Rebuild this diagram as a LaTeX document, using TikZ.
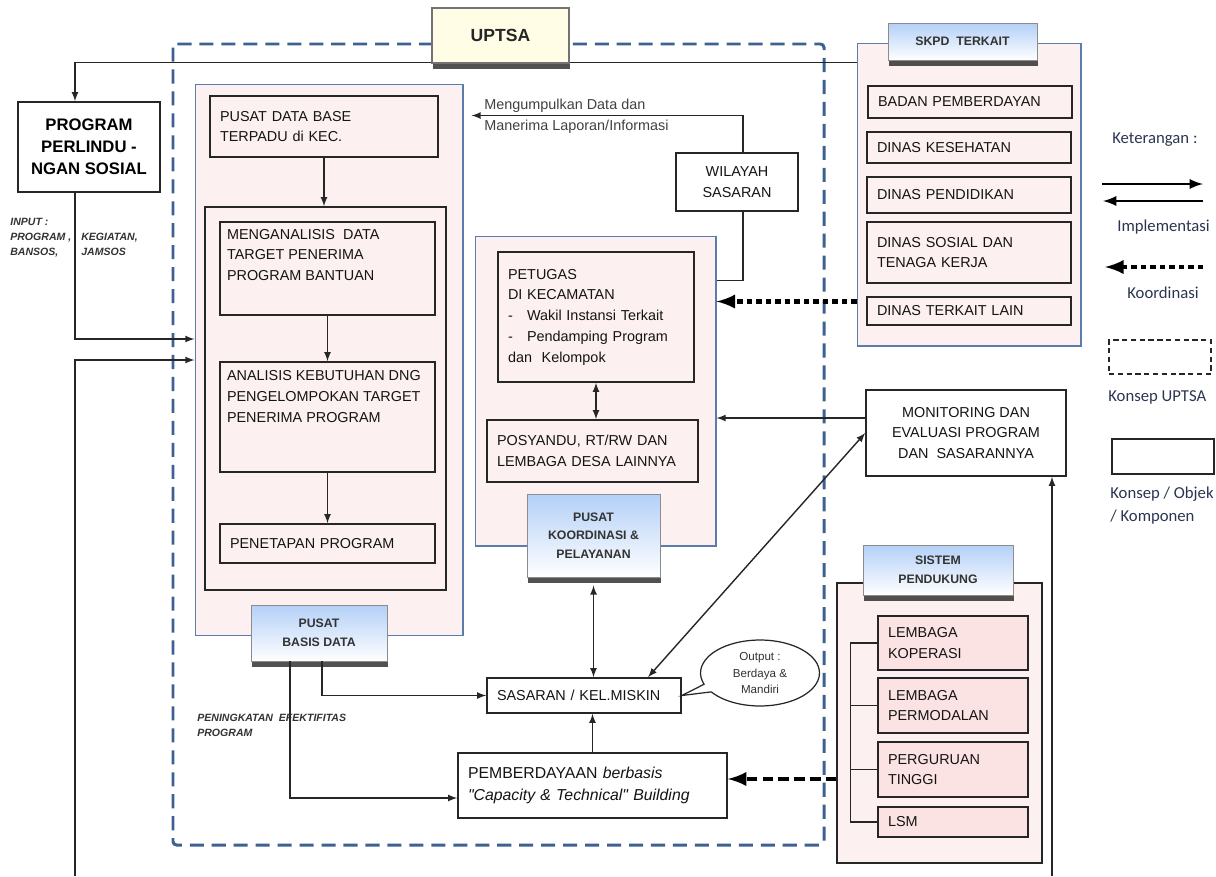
\documentclass[tikz,border=0pt]{standalone}
\usepackage{fontspec}
\setmainfont{Liberation Sans}
\newfontfamily\legendfont{Carlito}
\newfontfamily\quotefont{Liberation Sans}
\usetikzlibrary{shadows,shapes.geometric,shapes.callouts}

\definecolor{pinkbg}{HTML}{FDF0F0}
\definecolor{pinkbox}{HTML}{FCE3E3}
\definecolor{frameblue}{HTML}{5A7DAE}
\definecolor{dashblue}{HTML}{3D6190}
\definecolor{tagblue}{HTML}{B3D0F7}
\definecolor{uptsafill}{HTML}{FFFDE6}
\definecolor{legtext}{HTML}{2B3550}

\tikzset{
    box/.style={draw=black!85, line width=0.9pt, fill=pinkbg, text=black!92,
        font=\fontsize{8.2}{11.8}\selectfont, align=left,
        inner xsep=0.2cm, inner ysep=0pt},
    plainbox/.style={box, fill=white},
    contain/.style={draw=frameblue, line width=0.6pt, fill=pinkbg, inner sep=0pt},
    tagbox/.style={draw=black!45, line width=0.5pt, top color=tagblue,
        bottom color=white, text=black!80, align=center,
        font=\bfseries\fontsize{7}{10.6}\selectfont,
        drop shadow={shadow xshift=0.4pt, shadow yshift=-3.2pt,
            opacity=0.8, fill=black!85}},
    link/.style={line width=0.8pt, draw=black!85},
    koord/.style={line width=2.6pt, dash pattern=on 3pt off 2.4pt, -latex},
    dukung/.style={line width=2.6pt, dash pattern=on 6pt off 3pt, -latex},
    implem/.style={line width=1.6pt, -latex},
    lgtext/.style={font=\legendfont\fontsize{9.5}{13}\selectfont,
        text=legtext, inner sep=0pt, align=left},
    note/.style={font=\bfseries\itshape\fontsize{6}{8.5}\selectfont,
        text=black!80, inner sep=0pt, align=left}
}

\begin{document}
\begin{tikzpicture}[x=0.02cm, y=-0.02cm]
    \useasboundingbox (0,0) rectangle (1216,876);

    % Draw the UPTSA concept (dashed frame)
    \draw[dashblue, line width=1.7pt, dash pattern=on 8pt off 4.5pt, rounded corners=2pt]
        (173,44) rectangle (824,845);

    % SKPD terkait
    \node[contain, minimum width=4.48cm, minimum height=6.06cm] (skpd) at (969,194.5) {};
    \node[tagbox, minimum width=2.98cm, minimum height=0.74cm] (skpdT) at (962.5,41.5) {SKPD\ \ TERKAIT};
    \node[box, text width=3.68cm, minimum height=0.64cm] (bpm) at (970,102) {BADAN PEMBERDAYAN};
    \node[box, text width=3.68cm, minimum height=0.62cm] (dks) at (969,147.5) {DINAS KESEHATAN};
    \node[box, text width=3.68cm, minimum height=0.72cm] (dpd) at (969,195) {DINAS PENDIDIKAN};
    \node[box, text width=3.68cm, minimum height=1.22cm] (dsn) at (969,252.5) {DINAS SOSIAL DAN\\TENAGA KERJA\\[6pt]};
    \node[box, text width=3.68cm, minimum height=0.56cm] (dtl) at (969,311) {DINAS TERKAIT LAIN};

    % Program perlindungan sosial and the line from SKPD
    \node[plainbox, align=center, minimum width=2.84cm, minimum height=1.8cm,
        font=\bfseries\fontsize{9.5}{12.5}\selectfont, text=black] (prog) at (89,147) {PROGRAM\\PERLINDU -\\NGAN SOSIAL};
    \draw[link, -latex] ([yshift=-0.4cm]skpd.north west) -| ([xshift=-0.28cm]prog.north);
    \node[draw=black!55, line width=0.6pt, fill=uptsafill, minimum width=2.74cm, minimum height=1.1cm,
        font=\bfseries\fontsize{10}{12}\selectfont, text=black!85,
        drop shadow={shadow xshift=0.4pt, shadow yshift=-3.2pt, opacity=0.8, fill=black!85}] (uptsa) at (500.5,35.5) {UPTSA};

    % Pusat basis data
    \node[contain, minimum width=5.36cm, minimum height=11.04cm] (pbd) at (329,360) {};
    \node[box, text width=4.16cm, minimum height=1.22cm] (pdb) at (324,126.5) {PUSAT DATA BASE\\TERPADU di KEC.};
    \node[box, minimum width=4.82cm, minimum height=7.66cm, inner sep=0pt] (anl) at (325.5,398.5) {};
    \node[box, inner xsep=0.14cm] (mgn) at (327.5,268.5)
        {\parbox[c][1.86cm][t]{4.02cm}{\raggedright\vspace{4pt}MENGANALISIS\ \ DATA\\TARGET PENERIMA\\PROGRAM BANTUAN}};
    \node[box, inner xsep=0.14cm] (akb) at (327.5,417)
        {\parbox[c][2.2cm][t]{4.02cm}{\raggedright\vspace{5pt}ANALISIS KEBUTUHAN DNG\\PENGELOMPOKAN TARGET\\PENERIMA PROGRAM}};
    \node[box, text width=3.9cm, minimum height=0.78cm] (pnp) at (327.5,543.5) {PENETAPAN PROGRAM};
    \node[tagbox, minimum width=2.72cm, minimum height=1.12cm] (tagA) at (319,633) {PUSAT\\BASIS DATA};
    \draw[link, -latex] (pdb.south) -- (pdb.south |- anl.north);
    \draw[link, -latex] (mgn.south) -- (akb.north);
    \draw[link, -latex] (akb.south) -- (pnp.north);

    % Pusat koordinasi & pelayanan
    \node[contain, minimum width=4.82cm, minimum height=6.2cm] (pkc) at (595.5,391) {};
    \node[box, text width=3.52cm, minimum height=2.6cm] (ptg) at (596,317)
        {PETUGAS\\DI KECAMATAN\\\makebox[0.38cm][l]{-}Wakil Instansi Terkait\\\makebox[0.38cm][l]{-}Pendamping Program\\dan\ \ Kelompok};
    \node[box, text width=3.82cm, minimum height=1.24cm] (psy) at (592.5,451) {POSYANDU, RT/RW DAN\\LEMBAGA DESA LAINNYA};
    \node[tagbox, minimum width=2.66cm, minimum height=1.66cm] (tagB) at (593.5,535.5) {PUSAT\\KOORDINASI \&\\PELAYANAN};
    \draw[link, latex-latex] (ptg.south) -- (ptg.south |- psy.north);

    % Wilayah, monitoring, sasaran and pemberdayaan
    \node[plainbox, align=center, minimum width=2.44cm, minimum height=1.16cm] (wil) at (737,182) {WILAYAH\\SASARAN};
    \node[plainbox, align=center, minimum width=4.0cm, minimum height=1.72cm] (mon) at (966,433) {MONITORING DAN\\EVALUASI PROGRAM\\DAN\ \ SASARANNYA};
    \node[plainbox, text width=3.48cm, minimum height=0.7cm] (sas) at (584,695.5) {SASARAN / KEL.MISKIN};
    \node[plainbox, text width=4.98cm, minimum height=1.3cm, font=\fontsize{9}{12.5}\selectfont] (pmb) at (592.5,785.5)
        {PEMBERDAYAAN \textit{berbasis}\\\textit{{\quotefont"}Capacity \& Technical{\quotefont"} Building}};
    \node[ellipse callout, draw=black!85, line width=0.7pt, fill=white,
        minimum width=2.38cm, minimum height=1.32cm, inner sep=0pt, align=center,
        font=\fontsize{6.6}{9.6}\selectfont, text=black!80,
        callout absolute pointer={(sas.east)}] (outp) at (760,673) {Output :\\Berdaya \&\\Mandiri};

    % Sistem pendukung
    \node[contain, draw=black!85, line width=0.7pt, minimum width=4.1cm, minimum height=5.6cm] (spd) at (939.5,723) {};
    \node[tagbox, minimum width=3.0cm, minimum height=1.0cm] (tagD) at (938,570) {SISTEM\\PENDUKUNG};
    \node[box, fill=pinkbox, text width=2.6cm, minimum height=1.08cm] (lkp) at (953,643) {LEMBAGA\\KOPERASI};
    \node[box, fill=pinkbox, text width=2.6cm, minimum height=1.1cm] (lpm) at (953,705.5) {LEMBAGA\\PERMODALAN};
    \node[box, fill=pinkbox, text width=2.6cm, minimum height=1.1cm] (ptt) at (953,769.5) {PERGURUAN\\TINGGI};
    \node[box, fill=pinkbox, text width=2.6cm, minimum height=0.6cm] (lsm) at (953,822) {LSM};
    \draw[link] ([xshift=-0.54cm]lkp.west) -- ([xshift=-0.54cm]lsm.west);
    \foreach \b in {lkp, lpm, ptt, lsm}
        \draw[link] ([xshift=-0.54cm]\b.west) -- (\b.west);

    % Draw the connectors
    \draw[link, -latex] ([xshift=-0.28cm]prog.south) |- ([yshift=0.42cm]pbd.west);
    \coordinate (loopL) at (75,876);
    \draw[link, -latex] (loopL) |- (pbd.west);
    \draw[link, -latex] ([xshift=0.12cm]wil.north) |- ([xshift=0.16cm, yshift=-0.64cm]pbd.north east);
    \draw[link] ([xshift=0.12cm]wil.south) |- ([yshift=-0.9cm]pkc.north east);
    \coordinate (kA) at ([yshift=0.9cm]skpd.south west);
    \draw[koord] (kA) -- (kA -| pkc.east);
    \coordinate (mA) at ([yshift=0.3cm]mon.west);
    \draw[link, -latex] (mA) -- (mA -| pkc.east);
    \draw[link, latex-latex] ([xshift=1.28cm]sas.north) -- (mon.west);
    \draw[link, latex-latex] ([yshift=-0.16cm]tagB.south) -- (tagB.south |- sas.north);
    \draw[link, -latex] (pmb.north) -- (pmb.north |- sas.south);
    \draw[link, -latex] ([xshift=0.06cm]tagA.south) |- (sas.west);
    \draw[link, -latex] ([xshift=-0.58cm]tagA.south) |- ([yshift=-0.25cm]pmb.west);
    \coordinate (sA) at ([yshift=-1.12cm]spd.west);
    \draw[dukung] (sA) -- (sA -| pmb.east);
    \coordinate (loopR) at (1052,876);
    \draw[link, -latex] (loopR) -- (loopR |- mon.south);

    % Free texts
    \node[note, anchor=west] (inp) at (10,238)
        {INPUT :\\\makebox[1.42cm][l]{PROGRAM ,}KEGIATAN,\\\makebox[1.42cm][l]{BANSOS,}JAMSOS};
    \node[note, anchor=west] (pen) at (197,725) {PENINGKATAN\ \ EFEKTIFITAS\\PROGRAM};
    \node[font=\fontsize{8.2}{12}\selectfont, text=black!75, inner sep=0pt, align=left, anchor=west] (mgt) at (484,116)
        {Mengumpulkan Data dan\\Manerima Laporan/Informasi};

    % Keterangan (legend)
    \node[lgtext, anchor=west] (ket) at (1112,140) {Keterangan :};
    \coordinate (iA) at (1102,184);
    \coordinate (iB) at (1203,184);
    \coordinate (iC) at (1203,201);
    \coordinate (iD) at (1103,201);
    \draw[implem] (iA) -- (iB);
    \draw[implem] (iC) -- (iD);
    \node[lgtext, anchor=west] (impl) at (1117,227) {Implementasi};
    \coordinate (kB) at (1203,267);
    \coordinate (kC) at (1105,267);
    \draw[koord] (kB) -- (kC);
    \node[lgtext, anchor=west] (koo) at (1127,293) {Koordinasi};
    \node[draw=black!85, line width=0.7pt, dash pattern=on 3pt off 2pt,
        minimum width=2.04cm, minimum height=0.68cm] (lgU) at (1160,357) {};
    \node[lgtext, anchor=west] (lgUt) at (1108,397) {Konsep UPTSA};
    \node[draw=black!85, line width=0.9pt, minimum width=2.04cm, minimum height=0.7cm] (lgO) at (1163,456.5) {};
    \node[lgtext, anchor=west] (lgOt) at (1110,505.5) {Konsep / Objek\\/ Komponen};
\end{tikzpicture}
\end{document}
